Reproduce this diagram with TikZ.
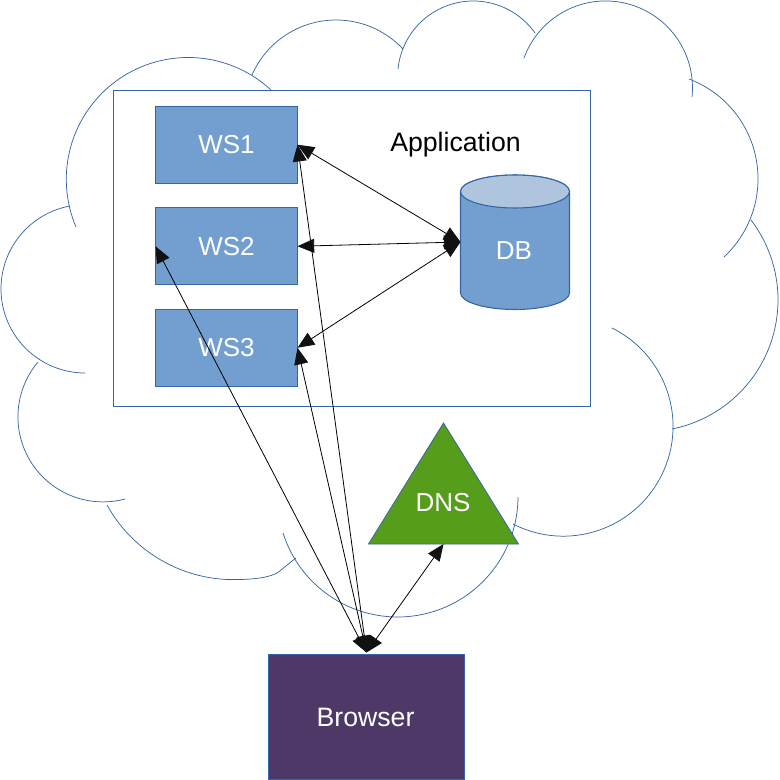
\documentclass[tikz,border=0pt]{standalone}
\usepackage{fontspec}
\setmainfont{Liberation Sans}
\usetikzlibrary{arrows.meta}
\definecolor{edgeblue}{HTML}{3465A4}
\definecolor{boxblue}{HTML}{729FCF}
\definecolor{topblue}{HTML}{AFC5DD}
\definecolor{dnsgreen}{HTML}{579D1C}
\definecolor{browserpurple}{HTML}{4E3868}
\definecolor{tipblack}{HTML}{111111}
\newcommand{\cloudarc}[6]{%
  \pgfmathsetmacro{\qa}{#1/100}\pgfmathsetmacro{\qb}{#2/100}%
  \pgfmathsetmacro{\qc}{#3/100}\pgfmathsetmacro{\qd}{#4/100}%
  \pgfmathsetmacro{\qe}{#5/100}\pgfmathsetmacro{\qf}{#6/100}%
  \pgfmathsetmacro{\qD}{2*(\qa*(\qd-\qf)+\qc*(\qf-\qb)+\qe*(\qb-\qd))}%
  \pgfmathsetmacro{\qs}{\qa*\qa+\qb*\qb}%
  \pgfmathsetmacro{\qt}{\qc*\qc+\qd*\qd}%
  \pgfmathsetmacro{\qu}{\qe*\qe+\qf*\qf}%
  \pgfmathsetmacro{\qX}{(\qs*(\qd-\qf)+\qt*(\qf-\qb)+\qu*(\qb-\qd))/\qD}%
  \pgfmathsetmacro{\qY}{(\qs*(\qe-\qc)+\qt*(\qa-\qe)+\qu*(\qc-\qa))/\qD}%
  \pgfmathsetmacro{\qR}{sqrt((\qa-\qX)*(\qa-\qX)+(\qb-\qY)*(\qb-\qY))}%
  \pgfmathsetmacro{\qAa}{atan2(\qb-\qY,\qa-\qX)}%
  \pgfmathsetmacro{\qAb}{atan2(\qd-\qY,\qc-\qX)}%
  \pgfmathsetmacro{\qAc}{atan2(\qf-\qY,\qe-\qX)}%
  \pgfmathsetmacro{\qdb}{Mod(\qAb-\qAa,360)}%
  \pgfmathsetmacro{\qdc}{Mod(\qAc-\qAa,360)}%
  \pgfmathsetmacro{\qsw}{\qdb<\qdc ? \qdc : \qdc-360}%
  \pgfmathsetmacro{\qend}{\qAa+\qsw}%
  \draw[cloudline] plot[domain=\qAa:\qend,samples=70,variable=\t]
    ({100*(\qX+\qR*cos(\t))},{100*(\qY+\qR*sin(\t))});%
}
\tikzset{
  cloudline/.style={draw=edgeblue,line width=0.55pt},
  lab/.style={font=\fontsize{19.5}{23}\selectfont,inner sep=0pt},
  wsbox/.style={rectangle,draw=edgeblue,fill=boxblue,line width=0.8pt,minimum width=106.5pt,minimum height=57.5pt,inner sep=0pt,outer sep=0pt,text=white,font=\fontsize{19.5}{23}\selectfont},
  dbbody/.style={rectangle,minimum width=81.75pt,minimum height=100pt,inner sep=0pt,outer sep=0pt},
  link/.style={draw=black,line width=0.6pt,{Triangle[length=12.5pt,width=10.5pt,color=tipblack]}-{Triangle[length=12.5pt,width=10.5pt,color=tipblack]},shorten >=0pt,shorten <=0pt}
}
\begin{document}
\begin{tikzpicture}[x=0.75pt,y=-0.75pt]
\useasboundingbox (0,0) rectangle (779,780);
% cloud
\cloudarc{76}{227}{190}{57.5}{271}{90}
\cloudarc{252}{75}{335}{20}{403}{49}
\cloudarc{398}{69}{473}{1}{535}{33}
\cloudarc{524}{58}{603}{1}{692}{97}
\cloudarc{689}{79}{758}{177}{724}{257}
\cloudarc{751}{220}{778}{300}{672}{429}
\cloudarc{612}{328}{673}{423}{513}{524}
\cloudarc{518}{497}{397}{617}{283}{533}
\cloudarc{107}{505}{150}{553}{228}{579.5}
\draw[cloudline] (228,579.5) .. controls (250,580) and (268,578) .. (277,573) .. controls (284,568) and (288,564) .. (296,558);
\cloudarc{125}{499}{18}{420}{38}{362}
\cloudarc{85}{373}{1}{290}{70}{206}
% application
\node[rectangle,draw=edgeblue,fill=white,line width=0.8pt,minimum width=357.75pt,minimum height=237pt,inner sep=0pt,outer sep=0pt] (App) at (352,248.5) {};
\node[font=\fontsize{20}{24}\selectfont,inner sep=0pt,text=black] (AppLabel) at (455.5,145) {Application};
\node[wsbox] (WS1) at (226.5,144.75) {WS1};
\node[wsbox] (WS2) at (226.5,246.25) {WS2};
\node[wsbox] (WS3) at (226.5,347.75) {WS3};
% database
\node[dbbody] (DB) at (515,242) {};
\path[fill=boxblue,draw=edgeblue,line width=0.8pt] (460.5,191.5) -- (460.5,293) arc[start angle=180,end angle=360,x radius=54.5,y radius=-16.5] -- (569.5,191.5) arc[start angle=0,end angle=180,x radius=54.5,y radius=-16.5] -- cycle;
\path[fill=topblue,draw=edgeblue,line width=0.8pt] (515,191.5) ellipse[x radius=54.5,y radius=16.5];
\node[lab,text=white] (DBLabel) at (514,250.5) {DB};
% dns
\fill[dnsgreen,draw=edgeblue,line width=0.6pt,line join=miter] (443.5,423) -- (518.5,544) -- (368.5,544) -- cycle;
\coordinate (DNSbase) at (443.5,544);
\node[lab,text=white] (DNS) at (443,503) {DNS};
% browser
\node[rectangle,draw=edgeblue,fill=browserpurple,line width=0.8pt,minimum width=147pt,minimum height=93.75pt,inner sep=0pt,outer sep=0pt] (Browser) at (366.5,717) {};
\node[font=\fontsize{20}{24}\selectfont,inner sep=0pt,text=white] (BrowserLabel) at (365.5,717) {Browser};
% connectors
\coordinate (Bn) at ([yshift=1.5pt]Browser.north);
\draw[link] (WS1.east) -- (DB.west);
\draw[link] (WS2.east) -- (DB.west);
\draw[link] (WS3.east) -- (DB.west);
\draw[link] (WS1.east) -- (Bn);
\draw[link] (WS3.east) -- (Bn);
\draw[link] (WS2.west) -- (Bn);
\draw[link] (DNSbase) -- (Bn);
\end{tikzpicture}
\end{document}
